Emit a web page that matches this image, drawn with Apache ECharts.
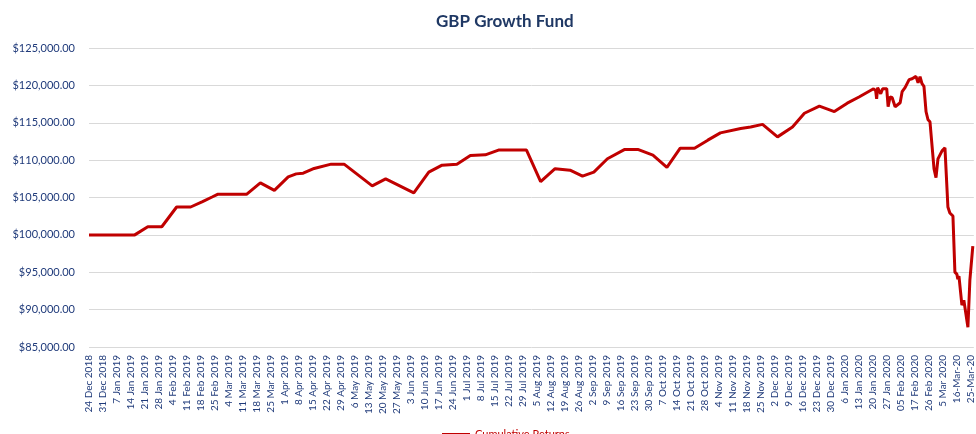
<!DOCTYPE html>
<html>
<head>
<meta charset="utf-8">
<script src="https://cdn.jsdelivr.net/npm/echarts@6/dist/echarts.min.js"></script>
<style>html,body{margin:0;padding:0;background:#fff}#c{width:976px;height:434px}</style>
</head>
<body>
<div id="c"></div>
<script>
// Tick labels of the category-like x axis (uniformly spaced)
const tickLabels = ["24 Dec 2018","31 Dec 2018","7 Jan 2019","14 Jan 2019","21 Jan 2019","28 Jan 2019","4 Feb 2019","11 Feb 2019","18 Feb 2019","25 Feb 2019","4 Mar 2019","11 Mar 2019","18 Mar 2019","25 Mar 2019","1 Apr 2019","8 Apr 2019","15 Apr 2019","22 Apr 2019","29 Apr 2019","6 May 2019","13 May 2019","20 May 2019","27 May 2019","3 Jun 2019","10 Jun 2019","17 Jun 2019","24 Jun 2019","1 Jul 2019","8 Jul 2019","15 Jul 2019","22 Jul 2019","29 Jul 2019","5 Aug 2019","12 Aug 2019","19 Aug 2019","26 Aug 2019","2 Sep 2019","9 Sep 2019","16 Sep 2019","23 Sep 2019","30 Sep 2019","7 Oct 2019","14 Oct 2019","21 Oct 2019","28 Oct 2019","4 Nov 2019","11 Nov 2019","18 Nov 2019","25 Nov 2019","2 Dec 2019","9 Dec 2019","16 Dec 2019","23 Dec 2019","30 Dec 2019","6 Jan 2020","13 Jan 2020","20 Jan 2020","27 Jan 2020","05 Feb 2020","17 Feb 2020","26 Feb 2020","5 Mar 2020","16-Mar-20","25-Mar-20"];

// Position of each observation along the x axis (in tick-label units)
const xIdx = [0,3.27,4.2,5.2,6.26,7.26,8.11,8.83,9.18,11.25,12.24,13.24,14.23,14.8,15.3,16.08,17.3,18.22,20.23,21.19,23.2,24.27,25.22,26.28,27.24,28.31,29.25,31.25,32.26,33.29,34.36,35.25,36.06,37.03,38.27,39.2,40.28,41.28,42.23,43.25,44.2,45.1,46.55,47.26,48.11,49.18,50.25,51.1,52.17,53.24,54.16,55.0,56.04,56.19,56.26,56.33,56.55,56.69,56.98,57.08,57.22,57.37,57.58,57.72,57.94,58.08,58.29,58.43,58.58,58.79,58.93,59.07,59.22,59.36,59.5,59.64,59.79,59.93,60.07,60.36,60.5,60.57,60.64,60.93,61.14,61.35,61.49,61.71,61.85,61.99,62.06,62.14,62.35,62.49,62.63,62.78,62.92,63.13];

// Cumulative Returns values
const cumulativeReturns = [100000,100000,101090,101090,103730,103730,104450,105100,105430,105430,106960,105960,107760,108160,108250,108890,109460,109460,106560,107490,105620,108390,109330,109460,110630,110710,111340,111340,107110,108850,108660,107860,108400,110190,111430,111430,110670,109020,111600,111600,112670,113650,114240,114420,114780,113110,114420,116270,117220,116490,117620,118450,119550,119290,118210,119690,118880,119550,119550,117140,118480,118350,117140,116910,117680,119150,119690,119780,120760,120890,120800,121200,120360,121160,120220,119860,116470,115400,115130,108830,107660,107620,110170,111240,111640,103730,102930,102530,95020,94750,94080,94480,90590,91260,91260,87640,93940,98500];

const seriesName = "Cumulative Returns";
const chartTitle = "GBP Growth Fund";

const seriesData = xIdx.map((x, i) => [x, cumulativeReturns[i]]);

const FONT = 'Lato, "Open Sans", sans-serif';
const chart = echarts.init(document.getElementById('c'), null, {renderer: 'canvas'});
chart.setOption({
  animation: false,
  backgroundColor: '#ffffff',
  title: {
    text: chartTitle,
    left: 431,
    top: 8,
    textStyle: {fontFamily: FONT, fontSize: 17, fontWeight: 'bold', color: '#1f3864'}
  },
  legend: {
    data: [seriesName],
    left: 437,
    top: 424,
    icon: 'rect',
    itemWidth: 28,
    itemHeight: 3,
    itemGap: 4,
    textStyle: {fontFamily: FONT, fontSize: 11, color: '#c00000'}
  },
  grid: {left: 89, top: 48, width: 887, height: 299, containLabel: false},
  xAxis: {
    type: 'value',
    min: 0,
    max: 63.2,
    interval: 1,
    axisLine: {show: false},
    axisTick: {show: false},
    splitLine: {show: false},
    axisLabel: {
      rotate: 90,
      margin: 8,
      fontFamily: FONT,
      fontSize: 10,
      color: '#1f3a7a',
      showMaxLabel: false,
      formatter: function (v) {
        const r = Math.round(v);
        if (Math.abs(v - r) > 1e-6) return '';
        return tickLabels[r] || '';
      }
    }
  },
  yAxis: {
    type: 'value',
    min: 85000,
    max: 125000,
    interval: 5000,
    axisLine: {show: false},
    axisTick: {show: false},
    splitLine: {lineStyle: {color: '#d9d9d9', width: 1}},
    axisLabel: {
      margin: 14,
      fontFamily: FONT,
      fontSize: 11,
      color: '#1f3a7a',
      formatter: function (v) {
        return '$' + v.toLocaleString('en-US', {minimumFractionDigits: 2, maximumFractionDigits: 2});
      }
    }
  },
  series: [{
    name: seriesName,
    type: 'line',
    data: seriesData,
    showSymbol: false,
    symbol: 'none',
    lineStyle: {color: '#c00000', width: 3},
    itemStyle: {color: '#c00000'}
  }]
});
</script>
</body>
</html>
